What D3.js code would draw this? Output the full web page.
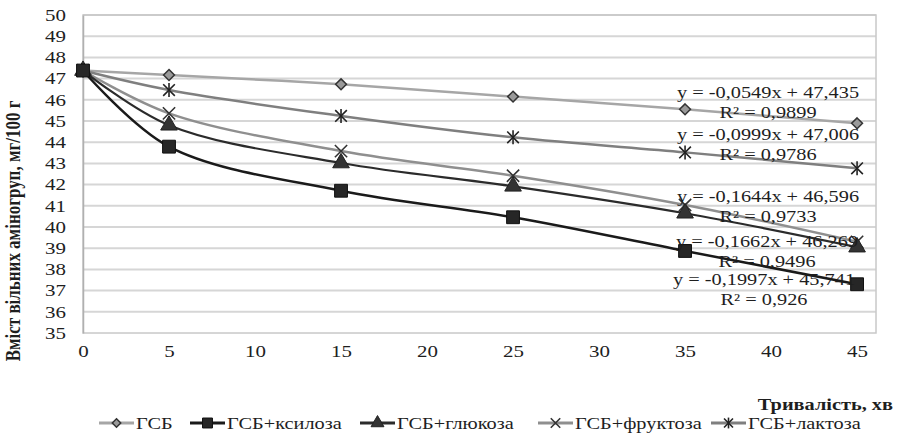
<!DOCTYPE html>
<html>
<head>
<meta charset="utf-8">
<title>amino groups chart</title>
<script src="https://cdn.jsdelivr.net/npm/d3@7/dist/d3.min.js"></script>
<style>
    body { margin: 0; background: #fff; }
    svg text { font-family: "Liberation Serif", "Times New Roman", serif; fill: #1e1e1e; }
    .grid line { stroke: #d6d6d6; stroke-width: 2px; }
</style>
</head>
<body>
<svg id="chart" width="902" height="434"></svg>
<script>
    // data
    const times = [0, 5, 15, 25, 35, 45];
    const xTicks = [0, 5, 10, 15, 20, 25, 30, 35, 40, 45];
    const yTicks = [35, 36, 37, 38, 39, 40, 41, 42, 43, 44, 45, 46, 47, 48, 49, 50];
    const names = ["ГСБ", "ГСБ+ксилоза", "ГСБ+глюкоза", "ГСБ+фруктоза", "ГСБ+лактоза"];
    const gsb      = [47.38, 47.17, 46.73, 46.15, 45.55, 44.89];
    const xylose   = [47.38, 43.79, 41.71, 40.46, 38.87, 37.3];
    const glucose  = [47.38, 44.8, 43.02, 41.92, 40.65, 39.05];
    const fructose = [47.38, 45.36, 43.58, 42.42, 41.04, 39.3];
    const lactose  = [47.38, 46.46, 45.24, 44.23, 43.52, 42.77];
    const eqs = ["y = -0,0549x + 47,435", "y = -0,1997x + 45,741", "y = -0,1662x + 46,269",
                 "y = -0,1644x + 46,596", "y = -0,0999x + 47,006"];
    const r2s = ["R² = 0,9899", "R² = 0,926", "R² = 0,9496", "R² = 0,9733", "R² = 0,9786"];

    const series = [gsb, xylose, glucose, fructose, lactose];
    const styles = [
        {line: "#a6a6a6", w: 2.5, mark: "diamond", fill: "#9a9a9a", stroke: "#333"},
        {line: "#1a1a1a", w: 2.5, mark: "square", fill: "#262626", stroke: "#111"},
        {line: "#2b2b2b", w: 2.2, mark: "triangle", fill: "#333", stroke: "#222"},
        {line: "#8f8f8f", w: 2.5, mark: "x", fill: "none", stroke: "#333"},
        {line: "#7f7f7f", w: 2.5, mark: "star", fill: "none", stroke: "#222"}
    ];
    // label positions (centre x, centre y of eq line) in pixels
    const labelPos = [[768, 93], [764, 280], [767, 242], [768, 197], [768, 135]];
    const stretch = 1.27;   // the source picture is wider than its fonts

    const svg = d3.select("#chart");
    const mLeft = 83, mRight = 876, mTop = 15, mBottom = 333;

    const x = d3.scaleLinear().domain([0, 46.1]).range([mLeft, mRight]);
    const y = d3.scaleLinear().domain([35, 50]).range([mBottom, mTop]);

    // grid
    svg.append("g").attr("class", "grid")
        .selectAll("line").data(yTicks.slice(1)).join("line")
        .attr("x1", mLeft).attr("x2", mRight)
        .attr("y1", d => y(d)).attr("y2", d => y(d));

    // frame
    svg.append("rect").attr("x", mLeft).attr("y", mTop)
        .attr("width", mRight - mLeft).attr("height", mBottom - mTop)
        .attr("fill", "none").attr("stroke", "#c8c8c8").attr("stroke-width", 1.5);

    // axes
    const yAxis = svg.append("g").attr("transform", "translate(" + mLeft + ",0)")
        .call(d3.axisLeft(y).tickValues(yTicks).tickSize(0).tickPadding(17));
    yAxis.select(".domain").attr("stroke", "#b0b0b0").attr("stroke-width", 1.5);
    yAxis.selectAll("text").attr("font-size", 16.5);

    const xAxis = svg.append("g").attr("transform", "translate(0," + mBottom + ")")
        .call(d3.axisBottom(x).tickValues(xTicks).tickSize(0).tickPadding(12));
    xAxis.select(".domain").remove();
    xAxis.selectAll("text").attr("font-size", 16.5);

    // axis titles
    svg.append("text").attr("transform", "translate(20,231) rotate(-90) scale(1,1.2)")
        .attr("text-anchor", "middle").attr("font-size", 17).attr("font-weight", "bold")
        .attr("class", "nostretch")
        .text("Вміст вільних аміногруп, мг/100 г");
    svg.append("text").attr("x", 893).attr("y", 410).attr("text-anchor", "end")
        .attr("font-size", 16).attr("font-weight", "bold").text("Тривалість, хв");

    function marker(g, type, s, size) {
        const k = size || 1;
        if (type === "diamond") {
            g.append("path").attr("d", d3.symbol(d3.symbolDiamond2, 75 * k)())
                .attr("fill", s.fill).attr("stroke", s.stroke).attr("stroke-width", 1.5);
        } else if (type === "square") {
            g.append("path").attr("d", d3.symbol(d3.symbolSquare, 165 * k)())
                .attr("fill", s.fill).attr("stroke", s.stroke);
        } else if (type === "triangle") {
            g.append("path").attr("d", d3.symbol(d3.symbolTriangle, 120 * k)())
                .attr("fill", s.fill).attr("stroke", s.stroke);
        } else if (type === "x") {
            g.append("path").attr("d", d3.symbol(d3.symbolX, 100 * k)())
                .attr("fill", "none").attr("stroke", s.stroke).attr("stroke-width", 1.6);
        } else {
            g.append("path").attr("d", d3.symbol(d3.symbolX, 90 * k)())
                .attr("fill", "none").attr("stroke", s.stroke).attr("stroke-width", 1.6);
            const r = 7 * Math.sqrt(k);
            g.append("line").attr("x1", 0).attr("x2", 0).attr("y1", -r).attr("y2", r)
                .attr("stroke", s.stroke).attr("stroke-width", 1.6);
        }
    }

    const line = d3.line()
        .x((d, i) => x(times[i]))
        .y(d => y(d))
        .curve(d3.curveCatmullRom.alpha(0.5));

    // draw in the order so darker series lie on top
    const order = [0, 4, 3, 2, 1];
    order.forEach(si => {
        const s = styles[si];
        svg.append("path").attr("d", line(series[si]))
            .attr("fill", "none").attr("stroke", s.line).attr("stroke-width", s.w);
    });
    order.forEach(si => {
        const s = styles[si];
        series[si].forEach((v, i) => {
            const g = svg.append("g").attr("transform", "translate(" + x(times[i]) + "," + y(v) + ")");
            marker(g, s.mark, s);
        });
    });

    // trend equations
    eqs.forEach((t, i) => {
        svg.append("text").attr("x", labelPos[i][0]).attr("y", labelPos[i][1] + 5)
            .attr("text-anchor", "middle").attr("font-size", 16).text(t);
        svg.append("text").attr("x", labelPos[i][0]).attr("y", labelPos[i][1] + 25)
            .attr("text-anchor", "middle").attr("font-size", 16).text(r2s[i]);
    });

    // legend
    const legendX = [136, 227, 397, 575, 748];
    names.forEach((n, i) => {
        const s = styles[i];
        const g = svg.append("g").attr("transform", "translate(" + legendX[i] + ",423)");
        g.append("line").attr("x1", -37).attr("x2", -2).attr("y1", 0).attr("y2", 0)
            .attr("stroke", s.line).attr("stroke-width", 3);
        const m = g.append("g").attr("transform", "translate(-19.5,0)");
        marker(m, s.mark, s, 0.6);
        g.append("text").attr("x", 0).attr("y", 6).attr("font-size", 16).text(n);
    });

    // widen the glyphs like in the source picture
    svg.selectAll("text").filter(function() { return !this.classList.contains("nostretch"); })
        .each(function() {
            const w = this.getComputedTextLength();
            d3.select(this).attr("textLength", w * stretch).attr("lengthAdjust", "spacingAndGlyphs");
        });
</script>
</body>
</html>
